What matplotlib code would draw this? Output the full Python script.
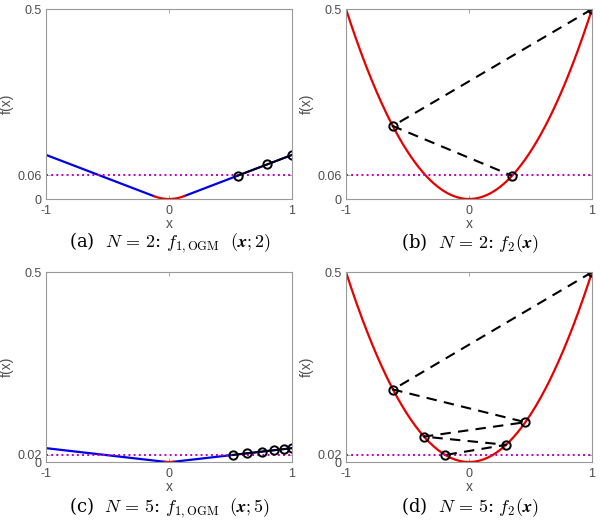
import numpy as np
import matplotlib
matplotlib.use('Agg')
import matplotlib.pyplot as plt

plt.rcParams['font.family'] = ['Liberation Sans', 'DejaVu Sans']
plt.rcParams['mathtext.fontset'] = 'cm'

# worst-case levels f(x_N) for N = 2 and N = 5
fstar_2 = 0.0619
fstar_5 = 0.0186
ytick_label_2 = '0.06'
ytick_label_5 = '0.02'

# Huber threshold for f_{1,OGM}(x;N) (= 2 * fstar)
tau_2 = 0.1238
tau_5 = 0.0372

# iterates
x_huber_2 = [1.0, 0.797, 0.558]
x_huber_5 = [1.0, 0.937, 0.856, 0.756, 0.632, 0.518]
x_quad_2 = [1.0, -0.620, 0.350]
x_quad_5 = [1.0, -0.618, 0.458, -0.366, 0.301, -0.193]

captions = [
    r'(a)  $N\,=\,2$: $f_{1,\mathrm{OGM}}\ \ (\boldsymbol{x};2)$',
    r'(b)  $N\,=\,2$: $f_2(\boldsymbol{x})$',
    r'(c)  $N\,=\,5$: $f_{1,\mathrm{OGM}}\ \ (\boldsymbol{x};5)$',
    r'(d)  $N\,=\,5$: $f_2(\boldsymbol{x})$',
]


def huber(x, tau):
    x = np.asarray(x)
    return np.where(np.abs(x) <= tau, 0.5 * x ** 2, tau * np.abs(x) - 0.5 * tau ** 2)


def quad(x):
    return 0.5 * np.asarray(x) ** 2


def style_axes(ax, fstar, flabel):
    ax.set_xlim(-1, 1)
    ax.set_ylim(0, 0.5)
    ax.set_xticks([-1, 0, 1])
    ax.set_xticklabels(['-1', '0', '1'])
    ax.set_yticks([0, fstar, 0.5])
    ax.set_yticklabels(['0', flabel, '0.5'])
    ax.tick_params(direction='in', length=3, width=0.6, colors='0.6',
                   labelcolor='0.3', labelsize=9, top=True, right=True, pad=3)
    ax.tick_params(axis='x', pad=4)
    for s in ax.spines.values():
        s.set_color('0.6')
        s.set_linewidth(0.8)
    ax.set_xlabel('x', fontsize=10, color='0.3', labelpad=0)
    ax.set_ylabel('f(x)', fontsize=10, color='0.3', labelpad=3)


fig = plt.figure(figsize=(6.0, 5.23), dpi=100)
w, h = 0.41, 0.363
positions = [(0.0767, 0.6195), (0.5767, 0.6195), (0.0767, 0.1166), (0.5767, 0.1166)]
axes = [fig.add_axes([l, b, w, h]) for l, b in positions]

xx = np.linspace(-1, 1, 801)

# (a), (c): Huber-type function
for ax, tau, fstar, flab, xs in [(axes[0], tau_2, fstar_2, ytick_label_2, x_huber_2),
                                 (axes[2], tau_5, fstar_5, ytick_label_5, x_huber_5)]:
    left = xx <= -tau
    right = xx >= tau
    mid = np.abs(xx) <= tau
    ax.plot(xx[left], huber(xx[left], tau), color=(0, 0, 0.9), lw=1.6)
    ax.plot(xx[right], huber(xx[right], tau), color=(0, 0, 0.9), lw=1.6)
    ax.plot(xx[mid], huber(xx[mid], tau), color=(0.9, 0, 0), lw=1.6)
    ax.axhline(fstar, color='m', ls=':', lw=1.4)
    ax.plot(xs, huber(xs, tau), 'k-', lw=1.3, marker='o', ms=6,
            mfc='none', mec='k', mew=1.4)
    style_axes(ax, fstar, flab)

# (b), (d): quadratic
for ax, fstar, flab, xs in [(axes[1], fstar_2, ytick_label_2, x_quad_2),
                            (axes[3], fstar_5, ytick_label_5, x_quad_5)]:
    ax.plot(xx, quad(xx), color=(0.9, 0, 0), lw=1.6)
    ax.axhline(fstar, color='m', ls=':', lw=1.4)
    ax.plot(xs, quad(xs), 'k--', lw=1.5, dashes=(5, 3.5), marker='o', ms=6,
            mfc='none', mec='k', mew=1.4)
    style_axes(ax, fstar, flab)

# captions
cap_pos = [(0.283, 0.535), (0.783, 0.535), (0.283, 0.030), (0.783, 0.030)]
for (cx, cy), txt in zip(cap_pos, captions):
    fig.text(cx, cy, txt, ha='center', va='center', fontsize=13,
             family='DejaVu Serif', math_fontfamily='cm')

fig.savefig('out.png', dpi=100)
